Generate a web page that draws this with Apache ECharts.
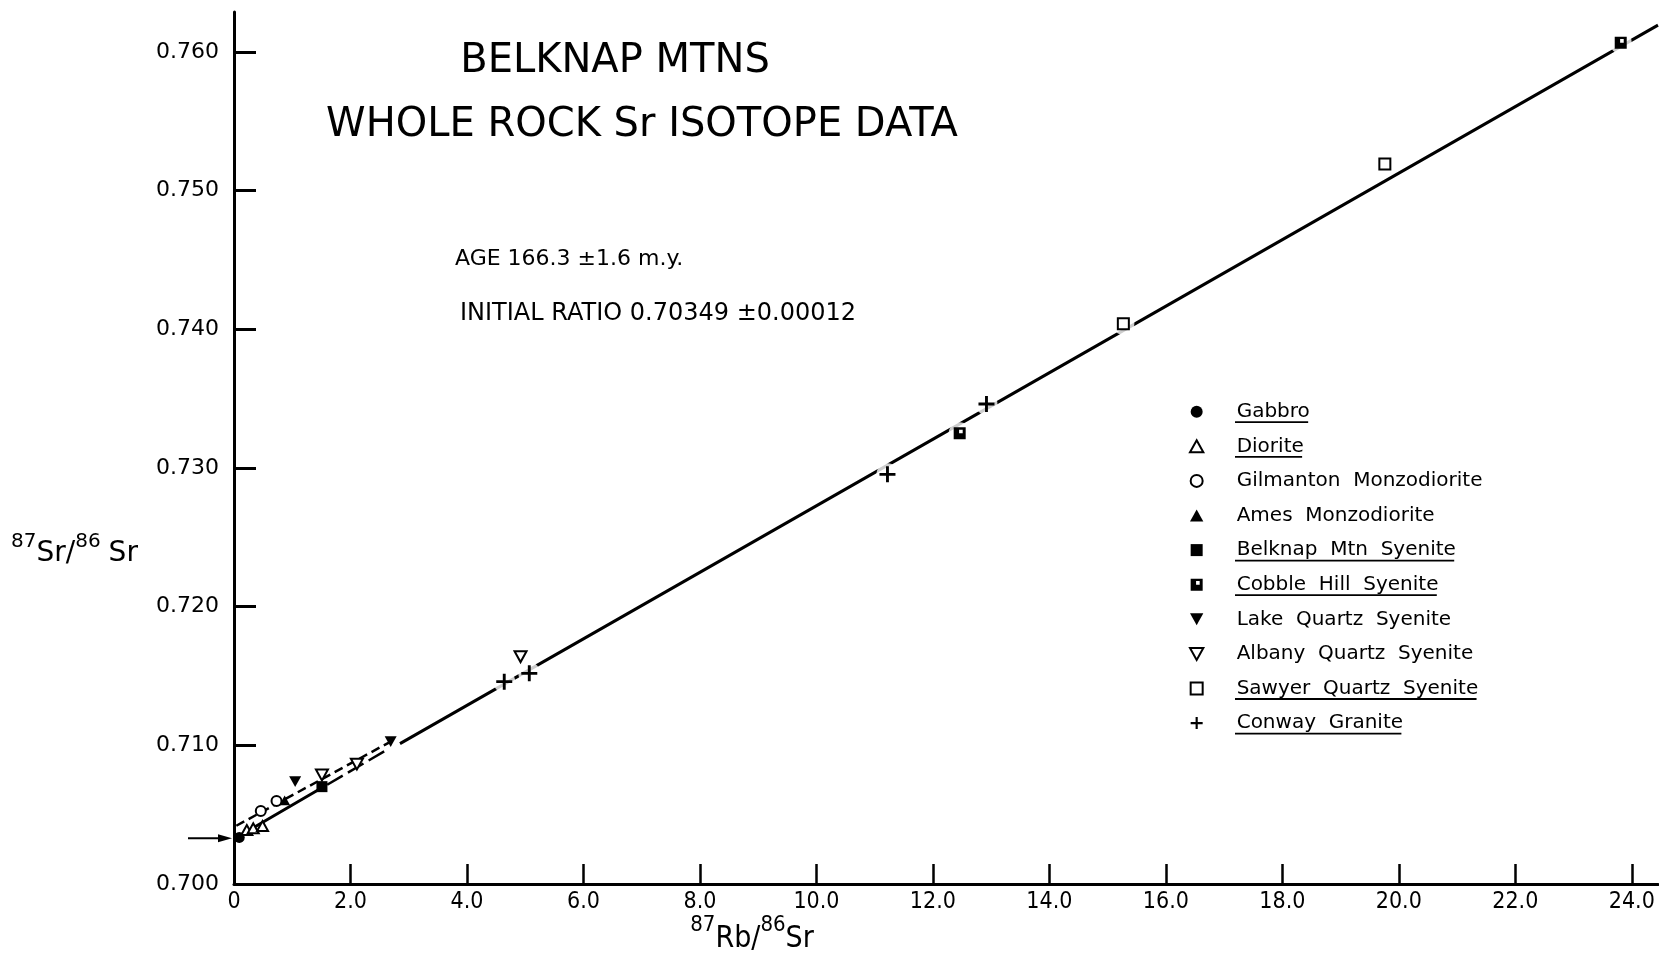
<!DOCTYPE html>
<html>
<head>
<meta charset="utf-8">
<script src="https://cdn.jsdelivr.net/npm/echarts@6/dist/echarts.min.js"></script>
<style>
html,body{margin:0;padding:0;background:#fff;}
#chart{width:1659px;height:959px;}
</style>
</head>
<body>
<div id="chart"></div>
<script>
// ---------- data ----------
const xTickValues = [0, 2, 4, 6, 8, 10, 12, 14, 16, 18, 20, 22, 24];
const xTickLabels = ['0', '2.0', '4.0', '6.0', '8.0', '10.0', '12.0', '14.0', '16.0', '18.0', '20.0', '22.0', '24.0'];
const yTickValues = [0.70, 0.71, 0.72, 0.73, 0.74, 0.75, 0.76];
const yTickLabels = ['0.700', '0.710', '0.720', '0.730', '0.740', '0.750', '0.760'];

const gabbro     = [[0.09, 0.70336]];
const diorite    = [[0.22, 0.70389], [0.33, 0.70402], [0.49, 0.70418]];
const gilmanton  = [[0.46, 0.70526], [0.73, 0.70599]];
const ames       = [[0.87, 0.70603]];
const belknap    = [[1.51, 0.70702]];
const cobbleHill = [[12.46, 0.73250], [23.81, 0.76067]];
const lakeQtz    = [[1.05, 0.70738], [2.69, 0.71026]];
const albanyQtz  = [[1.51, 0.70786], [2.11, 0.70865], [4.92, 0.71639]];
const sawyerQtz  = [[15.27, 0.74040], [19.76, 0.75192]];
const conway     = [[4.64, 0.71459], [5.07, 0.71519], [11.22, 0.72954], [12.92, 0.73461]];

// isochron lines (end points)
const isochronSolid  = [[0.03, 0.70332], [1.45, 0.70680], [2.0, '-'], [2.85, 0.71012], [24.45, 0.76193]];
const isochronDashed = [[1.60, 0.70716], [2.62, 0.70966]];
const upperDashed    = [[0.04, 0.70420], [2.66, 0.71020]];
const initialRatioArrow = 0.7033;

const seriesNames = ['Gabbro', 'Diorite', 'Gilmanton  Monzodiorite', 'Ames  Monzodiorite',
  'Belknap  Mtn  Syenite', 'Cobble  Hill  Syenite', 'Lake  Quartz  Syenite',
  'Albany  Quartz  Syenite', 'Sawyer  Quartz  Syenite', 'Conway  Granite'];
const underlined = [true, true, false, false, true, true, false, false, true, true];

// ---------- chart ----------
const FONT = '"DejaVu Sans", "Noto Sans", sans-serif';
const NARROW = '"Liberation Sans Narrow", "DejaVu Sans Condensed", "Roboto Condensed", "Liberation Sans", sans-serif';

const SYM = {
  tri: 'path://M5,0 L10,9 L0,9 Z',
  down: 'path://M0,0 L10,0 L5,9 Z',
  square: 'path://M0,0 H10 V10 H0 Z',
  cobble: 'path://M0,0 H10 V10 H0 Z M4.5,2 V5 H7.5 V2 Z',
  plus: 'path://M4.1,0 H5.9 V4.1 H10 V5.9 H5.9 V10 H4.1 V5.9 H0 V4.1 H4.1 Z'
};

function scatter(name, data, symbol, size, open) {
  return {
    name: name, type: 'scatter', data: data, symbol: symbol, symbolSize: size,
    symbolKeepAspect: true, z: 5, silent: true,
    itemStyle: open ? {color: '#fff', borderColor: '#000', borderWidth: 2, opacity: 1}
                    : {color: '#000', borderWidth: 0, opacity: 1}
  };
}

function lookup(vals, labels) {
  return function (v) {
    for (let i = 0; i < vals.length; i++) if (Math.abs(vals[i] - v) < 1e-6) return labels[i];
    return '';
  };
}

const LEG_LEFT = 1189, LEG_TOP = 401.7, LEG_STEP = 34.6, LEG_FONT = 20;

const chart = echarts.init(document.getElementById('chart'), null, {renderer: 'canvas'});

const option = {
  backgroundColor: '#fff',
  animation: false,
  grid: {left: 234, top: 12, width: 1424, height: 872, containLabel: false},
  xAxis: {
    type: 'value', min: 0, max: 24.45, interval: 2,
    axisLine: {lineStyle: {color: '#000', width: 3}},
    axisTick: {inside: true, length: 20, lineStyle: {color: '#000', width: 2.5},
               customValues: xTickValues.slice(1)},
    axisLabel: {customValues: xTickValues, formatter: lookup(xTickValues, xTickLabels),
                color: '#000', fontSize: 23, fontFamily: NARROW, margin: 7},
    splitLine: {show: false}
  },
  yAxis: {
    type: 'value', min: 0.70, max: 0.76288, interval: 0.01,
    axisLine: {lineStyle: {color: '#000', width: 3}},
    axisTick: {inside: true, length: 22, lineStyle: {color: '#000', width: 3},
               customValues: yTickValues.slice(1)},
    axisLabel: {customValues: yTickValues, formatter: lookup(yTickValues, yTickLabels),
                color: '#000', fontSize: 22, fontFamily: FONT, margin: 15},
    splitLine: {show: false}
  },
  legend: {
    orient: 'vertical', left: LEG_LEFT, top: LEG_TOP, padding: 0,
    itemWidth: 70, itemHeight: 12, itemGap: LEG_STEP - 20, selectedMode: false,
    symbolKeepAspect: true,
    data: seriesNames,
    textStyle: {color: '#000', fontSize: LEG_FONT, fontFamily: FONT, lineHeight: 20}
  },
  series: [
    {name: 'isochron', type: 'line', data: isochronSolid, showSymbol: false, silent: true, z: 2,
     lineStyle: {color: '#000', width: 3}, connectNulls: false},
    {name: 'isochron dashed', type: 'line', data: isochronDashed, showSymbol: false, silent: true, z: 2,
     lineStyle: {color: '#000', width: 2.5, type: [18, 6]}},
    {name: 'upper dashed', type: 'line', data: upperDashed, showSymbol: false, silent: true, z: 2,
     lineStyle: {color: '#000', width: 2.5, type: [9, 5]}},
    {name: 'halo', type: 'scatter', data: conway.concat(sawyerQtz, cobbleHill), symbol: 'circle',
     symbolSize: 22, silent: true, z: 3, itemStyle: {color: '#fff'}},
    scatter(seriesNames[0], gabbro, 'circle', 11, false),
    scatter(seriesNames[1], diorite, SYM.tri, 11, true),
    scatter(seriesNames[2], gilmanton, 'circle', 10, true),
    scatter(seriesNames[3], ames, SYM.tri, 11, false),
    scatter(seriesNames[4], belknap, SYM.square, 11, false),
    scatter(seriesNames[5], cobbleHill, SYM.cobble, 12, false),
    scatter(seriesNames[6], lakeQtz, SYM.down, 12, false),
    scatter(seriesNames[7], albanyQtz, SYM.down, 12, true),
    scatter(seriesNames[8], sawyerQtz, SYM.square, 11, true),
    scatter(seriesNames[9], conway, SYM.plus, 16, false)
  ]
};
chart.setOption(option);

// ---------- annotations ----------
const ctx = document.createElement('canvas').getContext('2d');
ctx.font = LEG_FONT + 'px ' + FONT;
const graphics = [];
const textLeft = LEG_LEFT + 46;
seriesNames.forEach(function (n, i) {
  if (!underlined[i]) return;
  const w = ctx.measureText(n).width;
  const y = LEG_TOP + 10 + LEG_STEP * i + 10.5;
  graphics.push({type: 'line', silent: true, z: 10,
    shape: {x1: textLeft, y1: y, x2: textLeft + w, y2: y},
    style: {stroke: '#000', lineWidth: 1.8}});
});

graphics.push(
  {type: 'text', x: 615, y: 62, silent: true,
   style: {text: 'BELKNAP MTNS', font: '40px ' + FONT, fill: '#000', align: 'center', verticalAlign: 'middle'}},
  {type: 'text', x: 642, y: 126, silent: true,
   style: {text: 'WHOLE ROCK Sr ISOTOPE DATA', font: '40px ' + FONT, fill: '#000', align: 'center', verticalAlign: 'middle'}},
  {type: 'text', x: 455, y: 259, silent: true,
   style: {text: 'AGE 166.3 ±1.6 m.y.', font: '22px ' + FONT, fill: '#000', align: 'left', verticalAlign: 'middle'}},
  {type: 'text', x: 460, y: 314, silent: true,
   style: {text: 'INITIAL RATIO 0.70349 ±0.00012', font: '24px ' + FONT, fill: '#000', align: 'left', verticalAlign: 'middle'}},
  {type: 'text', x: 11, y: 550, silent: true,
   style: {text: '{s|87}{b|Sr/}{s|86}{c|Sr}', fill: '#000', align: 'left', verticalAlign: 'middle',
     rich: {s: {fontSize: 20, fontFamily: FONT, lineHeight: 18, verticalAlign: 'top'},
            b: {fontSize: 28, fontFamily: FONT, lineHeight: 36, verticalAlign: 'bottom'},
            c: {fontSize: 28, fontFamily: FONT, lineHeight: 36, verticalAlign: 'bottom', padding: [0, 0, 0, 8]}}}},
  {type: 'text', x: 752, y: 934, silent: true,
   style: {text: '{s|87}{b|Rb/}{s|86}{b|Sr}', fill: '#000', align: 'center', verticalAlign: 'middle',
     rich: {s: {fontSize: 22, fontFamily: NARROW, lineHeight: 20, verticalAlign: 'top'},
            b: {fontSize: 30, fontFamily: NARROW, lineHeight: 40, verticalAlign: 'bottom'}}}}
);

const p = chart.convertToPixel({gridIndex: 0}, [0, initialRatioArrow]);
graphics.push(
  {type: 'line', silent: true, z: 10, shape: {x1: p[0] - 46, y1: p[1], x2: p[0] - 12, y2: p[1]},
   style: {stroke: '#000', lineWidth: 2}},
  {type: 'polygon', silent: true, z: 10,
   shape: {points: [[p[0] - 16, p[1] - 4], [p[0] - 2, p[1]], [p[0] - 16, p[1] + 4]]},
   style: {fill: '#000'}}
);
chart.setOption({graphic: graphics});
</script>
</body>
</html>
